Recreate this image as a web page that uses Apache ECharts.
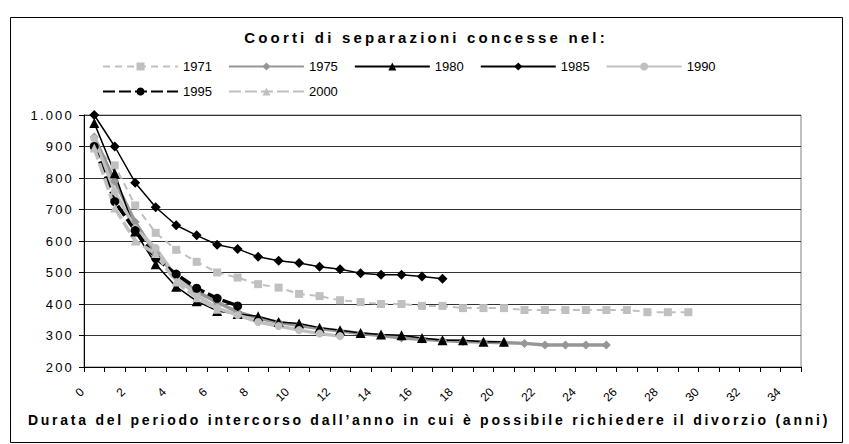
<!DOCTYPE html>
<html>
<head>
<meta charset="utf-8">
<script src="https://cdn.jsdelivr.net/npm/echarts@6/dist/echarts.min.js"></script>
<style>
html,body{margin:0;padding:0;background:#fff;}
#chart{width:849px;height:444px;}
</style>
</head>
<body>
<div id="chart"></div>
<script>
const categories = ["0","1","2","3","4","5","6","7","8","9","10","11","12","13","14","15","16","17","18","19","20","21","22","23","24","25","26","27","28","29","30","31","32","33","34"];
const yTicks = [200,300,400,500,600,700,800,900,1000];
const s1971 = [900,840,713,626,572,534,500,484,463,452,432,425,412,406,400,400,394,394,387,387,387,381,381,381,381,381,381,374,374,374];
const s1975 = [930,790,660,560,490,440,405,375,355,342,332,322,314,306,300,292,288,284,281,279,277,275,270,270,270,270];
const s1980 = [975,815,630,526,455,409,378,368,361,343,338,325,317,308,303,301,292,285,285,280,280];
const s1985 = [1000,900,785,707,650,618,588,575,550,537,530,518,510,498,493,493,487,480];
const s1990 = [925,757,640,578,485,428,387,365,343,330,317,306,298];
const s1995 = [900,725,633,545,495,450,418,394];
const s2000 = [895,705,600,560,470,420,383];
const titleText = "Coorti di separazioni concesse nel:";
const xTitle = "Durata del periodo intercorso dall’anno in cui è possibile richiedere il divorzio (anni)";

const FONT = "Liberation Sans, Arial, sans-serif";
const chart = echarts.init(document.getElementById('chart'), null, {renderer:'svg'});

function mk(name, data, color, width, type, symbol, size){
  return {
    name: name, type: 'line', data: data,
    symbol: symbol, symbolSize: size,
    lineStyle: {color: color, width: width, type: type},
    itemStyle: {color: color, borderWidth: 0},
    animation: false
  };
}

function fmtY(v){
  return v >= 1000 ? Math.floor(v/1000) + '.' + String(v%1000).padStart(3,'0') : String(v);
}

const option = {
  animation: false,
  backgroundColor: '#fff',
  graphic: [{
    type: 'rect', left: 8, top: 15, z: 100, silent: true,
    shape: {width: 832, height: 425},
    style: {fill: 'none', stroke: '#000', lineWidth: 1}
  },{
    type: 'text', z: 100, silent: true,
    style: {text: titleText, x: 426, y: 37, align: 'center', verticalAlign: 'middle',
            font: 'bold 15px ' + FONT, fill: '#000'}
  },{
    type: 'text', z: 100, silent: true,
    style: {text: xTitle, x: 429, y: 420, align: 'center', verticalAlign: 'middle',
            font: 'bold 14px ' + FONT, fill: '#000'}
  }],
  legend: [{
    data: ['1971','1975','1980','1985','1990'],
    left: 102, top: 60, padding: 0, itemWidth: 75, itemHeight: 10, itemGap: 16,
    textStyle: {fontFamily: FONT, fontSize: 13, color: '#000'}
  },{
    data: ['1995','2000'],
    left: 102, top: 85, padding: 0, itemWidth: 75, itemHeight: 10, itemGap: 16,
    textStyle: {fontFamily: FONT, fontSize: 13, color: '#000'}
  }],
  grid: {left: 84, right: 48, top: 115, bottom: 77, show: true, borderColor: '#808080', borderWidth: 1},
  xAxis: {
    type: 'category', data: categories, boundaryGap: true,
    axisLine: {lineStyle: {color: '#000', width: 1}},
    axisTick: {show: true, interval: 0, length: 5, lineStyle: {color: '#000'}},
    axisLabel: {interval: 1, rotate: 45, margin: 11, padding: [0, 17, 0, 0],
                fontFamily: FONT, fontSize: 12, color: '#000'},
    splitLine: {show: false}
  },
  yAxis: {
    type: 'value', min: yTicks[0], max: yTicks[yTicks.length-1], interval: 100,
    axisLine: {show: true, lineStyle: {color: '#000', width: 1}},
    axisTick: {show: true, length: 5, lineStyle: {color: '#000'}},
    axisLabel: {margin: 10, fontFamily: FONT, fontSize: 13, color: '#000', formatter: fmtY},
    splitLine: {show: true, lineStyle: {color: '#333', width: 1}}
  },
  series: [
    mk('1971', s1971, '#c0c0c0', 2, [7,5], 'rect', 8),
    mk('1975', s1975, '#969696', 3.5, 'solid', 'diamond', 9),
    mk('1980', s1980, '#000000', 1.5, 'solid', 'triangle', 10),
    mk('1985', s1985, '#000000', 1.5, 'solid', 'diamond', 10),
    mk('1990', s1990, '#c0c0c0', 3.5, 'solid', 'circle', 8),
    mk('1995', s1995, '#000000', 3.5, [12,4], 'circle', 9),
    mk('2000', s2000, '#c0c0c0', 3.5, [12,4], 'triangle', 9)
  ]
};
chart.setOption(option);

// Excel-style wide letter spacing for titles and value labels
const yLabels = yTicks.map(fmtY);
document.querySelectorAll('#chart svg text').forEach(t => {
  const s = t.textContent;
  if (s === titleText) t.style.letterSpacing = '3.2px';
  else if (s === xTitle) t.style.letterSpacing = '2.75px';
  else if (yLabels.indexOf(s) >= 0 && (t.getAttribute('text-anchor') === 'end')) t.style.letterSpacing = '2.2px';
});
</script>
</body>
</html>
